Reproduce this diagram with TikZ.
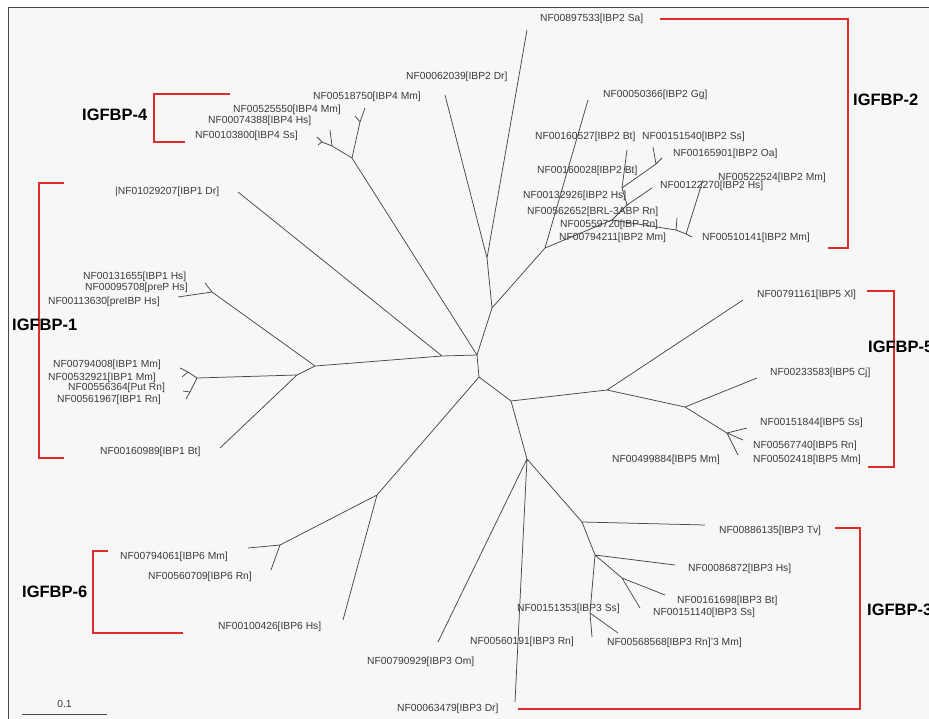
\documentclass[tikz,border=0pt]{standalone}
\usepackage{fontspec}
\setmainfont{Liberation Sans}
\definecolor{brk}{RGB}{222,44,44}
\definecolor{lnc}{RGB}{72,72,72}
\definecolor{txc}{RGB}{58,58,58}
\definecolor{bgc}{RGB}{247,247,247}
\begin{document}
\begin{tikzpicture}[x=1pt,y=-1pt,
  branch/.style={draw=lnc,line width=0.75pt},
  lab/.style={anchor=west,inner sep=0pt,font=\fontsize{10.3}{12}\selectfont,text=txc},
  grp/.style={anchor=west,inner sep=0pt,font=\fontsize{16.5}{19}\selectfont\bfseries,text=black},
  bracket/.style={draw=brk,line width=1.5pt}]
\useasboundingbox (0,0) rectangle (929,719);
\clip (0,0) rectangle (929,719);
\fill[white] (0,0) rectangle (929,719);
\fill[bgc] (8,8) rectangle (929,719);
\draw[lnc,line width=1pt] (8,719) -- (8,8) -- (929,8);

% ---------- tree coordinates ----------
\coordinate (A) at (477,355);
\coordinate (B) at (492,308);
\coordinate (S) at (487,258);
\coordinate (tSa) at (527,30);
\coordinate (tDrb) at (445,95);
\coordinate (T) at (545,248);
\coordinate (tGg) at (588,100);
\coordinate (U1) at (612,220);
\coordinate (X) at (627,205);
\coordinate (tHsb) at (652,188);
\coordinate (V) at (622,188);
\coordinate (tBtb) at (627,150);
\coordinate (W) at (656,164);
\coordinate (tSsb) at (653,147);
\coordinate (tOab) at (662,158);
\coordinate (U2) at (676,230);
\coordinate (tUb) at (677,218);
\coordinate (U3) at (686,234);
\coordinate (tMmb) at (703,180);
\coordinate (tMmc) at (692,237);
\coordinate (C) at (442,356);
\coordinate (tDra) at (238,192);
\coordinate (D) at (315,366);
\coordinate (Ha) at (212,292);
\coordinate (tHa1) at (205,283);
\coordinate (tHa2) at (178,297);
\coordinate (E) at (297,375);
\coordinate (Ma) at (197,378);
\coordinate (Ma1) at (188,372);
\coordinate (tMa1) at (180,368);
\coordinate (tMa2) at (182,377);
\coordinate (Ma2) at (190,392);
\coordinate (tMa3) at (183,391);
\coordinate (tMa4) at (186,399);
\coordinate (tBta) at (220,448);
\coordinate (Y) at (352,158);
\coordinate (Y1) at (360,122);
\coordinate (tY1) at (365,108);
\coordinate (tY2) at (355,116);
\coordinate (Z) at (332,146);
\coordinate (tZ1) at (330,130);
\coordinate (Z2) at (322,142);
\coordinate (tZ2) at (317,137);
\coordinate (tZ3) at (318,145);
\coordinate (F) at (479,377);
\coordinate (G) at (377,495);
\coordinate (R) at (280,545);
\coordinate (tMm6) at (248,548);
\coordinate (tRn6) at (271,570);
\coordinate (tHs6) at (343,620);
\coordinate (H) at (511,401);
\coordinate (I) at (607,390);
\coordinate (tXl) at (743,300);
\coordinate (K) at (685,407);
\coordinate (tCj) at (757,378);
\coordinate (L) at (727,433);
\coordinate (tSs5) at (747,428);
\coordinate (tRn5) at (743,440);
\coordinate (tMm5) at (738,455);
\coordinate (J) at (527,459);
\coordinate (tOm) at (438,642);
\coordinate (tDrc) at (515,702);
\coordinate (M) at (582,522);
\coordinate (tTv) at (705,525);
\coordinate (N) at (595,555);
\coordinate (tHs3) at (675,565);
\coordinate (O) at (622,578);
\coordinate (tBt3) at (665,595);
\coordinate (tSs3) at (640,608);
\coordinate (Q) at (590,613);
\coordinate (tSs3b) at (592,637);
\coordinate (tRn3) at (618,633);

% ---------- branches ----------
\draw[branch] (A)--(B) (B)--(S) (S)--(tSa) (S)--(tDrb);
\draw[branch] (B)--(T) (T)--(tGg) (T)--(U1) (U1)--(X) (X)--(tHsb) (X)--(V)
  (V)--(tBtb) (V)--(W) (W)--(tSsb) (W)--(tOab) (U1)--(U2) (U2)--(tUb)
  (U2)--(U3) (U3)--(tMmb) (U3)--(tMmc);
\draw[branch] (A)--(C) (C)--(tDra) (C)--(D) (D)--(Ha) (Ha)--(tHa1) (Ha)--(tHa2)
  (D)--(E) (E)--(Ma) (Ma)--(Ma1) (Ma1)--(tMa1) (Ma1)--(tMa2)
  (Ma)--(Ma2) (Ma2)--(tMa3) (Ma2)--(tMa4) (E)--(tBta);
\draw[branch] (A)--(Y) (Y)--(Y1) (Y1)--(tY1) (Y1)--(tY2) (Y)--(Z) (Z)--(tZ1)
  (Z)--(Z2) (Z2)--(tZ2) (Z2)--(tZ3);
\draw[branch] (A)--(F) (F)--(G) (G)--(R) (R)--(tMm6) (R)--(tRn6) (G)--(tHs6);
\draw[branch] (F)--(H) (H)--(I) (I)--(tXl) (I)--(K) (K)--(tCj) (K)--(L)
  (L)--(tSs5) (L)--(tRn5) (L)--(tMm5);
\draw[branch] (H)--(J) (J)--(tOm) (J)--(tDrc) (J)--(M) (M)--(tTv) (M)--(N)
  (N)--(tHs3) (N)--(O) (O)--(tBt3) (O)--(tSs3) (N)--(Q) (Q)--(tSs3b) (Q)--(tRn3);

% ---------- leaf labels ----------
\node[lab] (l01) at (540,19) {NF00897533[IBP2 Sa]};
\node[lab] (l02) at (406,77) {NF00062039[IBP2 Dr]};
\node[lab] (l03) at (603,95) {NF00050366[IBP2 Gg]};
\node[lab] (l04) at (535,137) {NF00160527[IBP2 Bt]};
\node[lab] (l05) at (642,137) {NF00151540[IBP2 Ss]};
\node[lab] (l06) at (673,154) {NF00165901[IBP2 Oa]};
\node[lab] (l07) at (537,171) {NF00160028[IBP2 Bt]};
\node[lab] (l08) at (660,186) {NF00122270[IBP2 Hs]};
\node[lab] (l09) at (718,178) {NF00522524[IBP2 Mm]};
\node[lab] (l10) at (523,196) {NF00132926[IBP2 Hs]};
\node[lab] (l11) at (527,212) {NF00562652[BRL-3ABP Rn]};
\node[lab] (l12) at (560,225) {NF00559720[IBP Rn]};
\node[lab] (l13) at (559,238) {NF00794211[IBP2 Mm]};
\node[lab] (l14) at (702,238) {NF00510141[IBP2 Mm]};

\node[lab] (l15) at (313,97) {NF00518750[IBP4 Mm]};
\node[lab] (l16) at (233,110) {NF00525550[IBP4 Mm]};
\node[lab] (l17) at (208,121) {NF00074388[IBP4 Hs]};
\node[lab] (l18) at (195,136) {NF00103800[IBP4 Ss]};

\node[lab] (l19) at (115,192) {|NF01029207[IBP1 Dr]};
\node[lab] (l20) at (83,277) {NF00131655[IBP1 Hs]};
\node[lab] (l21) at (85,288) {NF00095708[preP Hs]};
\node[lab] (l22) at (48,302) {NF00113630[preIBP Hs]};
\node[lab] (l23) at (53,365) {NF00794008[IBP1 Mm]};
\node[lab] (l24) at (48,378) {NF00532921[IBP1 Mm]};
\node[lab] (l25) at (68,388) {NF00556364[Put Rn]};
\node[lab] (l26) at (57,400) {NF00561967[IBP1 Rn]};
\node[lab] (l27) at (100,452) {NF00160989[IBP1 Bt]};

\node[lab] (l28) at (757,295) {NF00791161[IBP5 Xl]};
\node[lab] (l29) at (770,373) {NF00233583[IBP5 Cj]};
\node[lab] (l30) at (760,423) {NF00151844[IBP5 Ss]};
\node[lab] (l31) at (753,446) {NF00567740[IBP5 Rn]};
\node[lab] (l32) at (753,460) {NF00502418[IBP5 Mm]};
\node[lab] (l33) at (612,460) {NF00499884[IBP5 Mm]};

\node[lab] (l34) at (719,531) {NF00886135[IBP3 Tv]};
\node[lab] (l35) at (688,569) {NF00086872[IBP3 Hs]};
\node[lab] (l36) at (677,601) {NF00161698[IBP3 Bt]};
\node[lab] (l37) at (653,613) {NF00151140[IBP3 Ss]};
\node[lab] (l38) at (517,609) {NF00151353[IBP3 Ss]};
\node[lab] (l39) at (470,642) {NF00560191[IBP3 Rn]};
\node[lab] (l40) at (607,643) {NF00568568[IBP3 Rn]'3 Mm]};
\node[lab] (l41) at (367,662) {NF00790929[IBP3 Om]};
\node[lab] (l42) at (397,709) {NF00063479[IBP3 Dr]};

\node[lab] (l43) at (120,557) {NF00794061[IBP6 Mm]};
\node[lab] (l44) at (148,577) {NF00560709[IBP6 Rn]};
\node[lab] (l45) at (218,627) {NF00100426[IBP6 Hs]};

% ---------- group brackets ----------
\draw[bracket] (230,94) -- (154,94) -- (154,142) -- (185,142);
\node[grp] (g4) at (82,115) {IGFBP-4};
\draw[bracket] (64,183) -- (39,183) -- (39,458) -- (64,458);
\node[grp] (g1) at (12,325) {IGFBP-1};
\draw[bracket] (660,19) -- (848,19) -- (848,248) -- (828,248);
\node[grp] (g2) at (853,100) {IGFBP-2};
\draw[bracket] (867,291) -- (894,291) -- (894,467) -- (868,467);
\node[grp] (g5) at (868,347) {IGFBP-5};
\draw[bracket] (835,528) -- (860,528) -- (860,709) -- (518,709);
\node[grp] (g3) at (867,610) {IGFBP-3};
\draw[bracket] (108,551) -- (93,551) -- (93,633) -- (183,633);
\node[grp] (g6) at (22,592) {IGFBP-6};

% ---------- scale bar ----------
\coordinate (s1) at (22,714);
\coordinate (s2) at (107,714);
\draw[lnc,line width=0.8pt] (s1) -- (s2);
\node[lab,anchor=center] (sc) at (64.5,704) {0.1};
\end{tikzpicture}
\end{document}
